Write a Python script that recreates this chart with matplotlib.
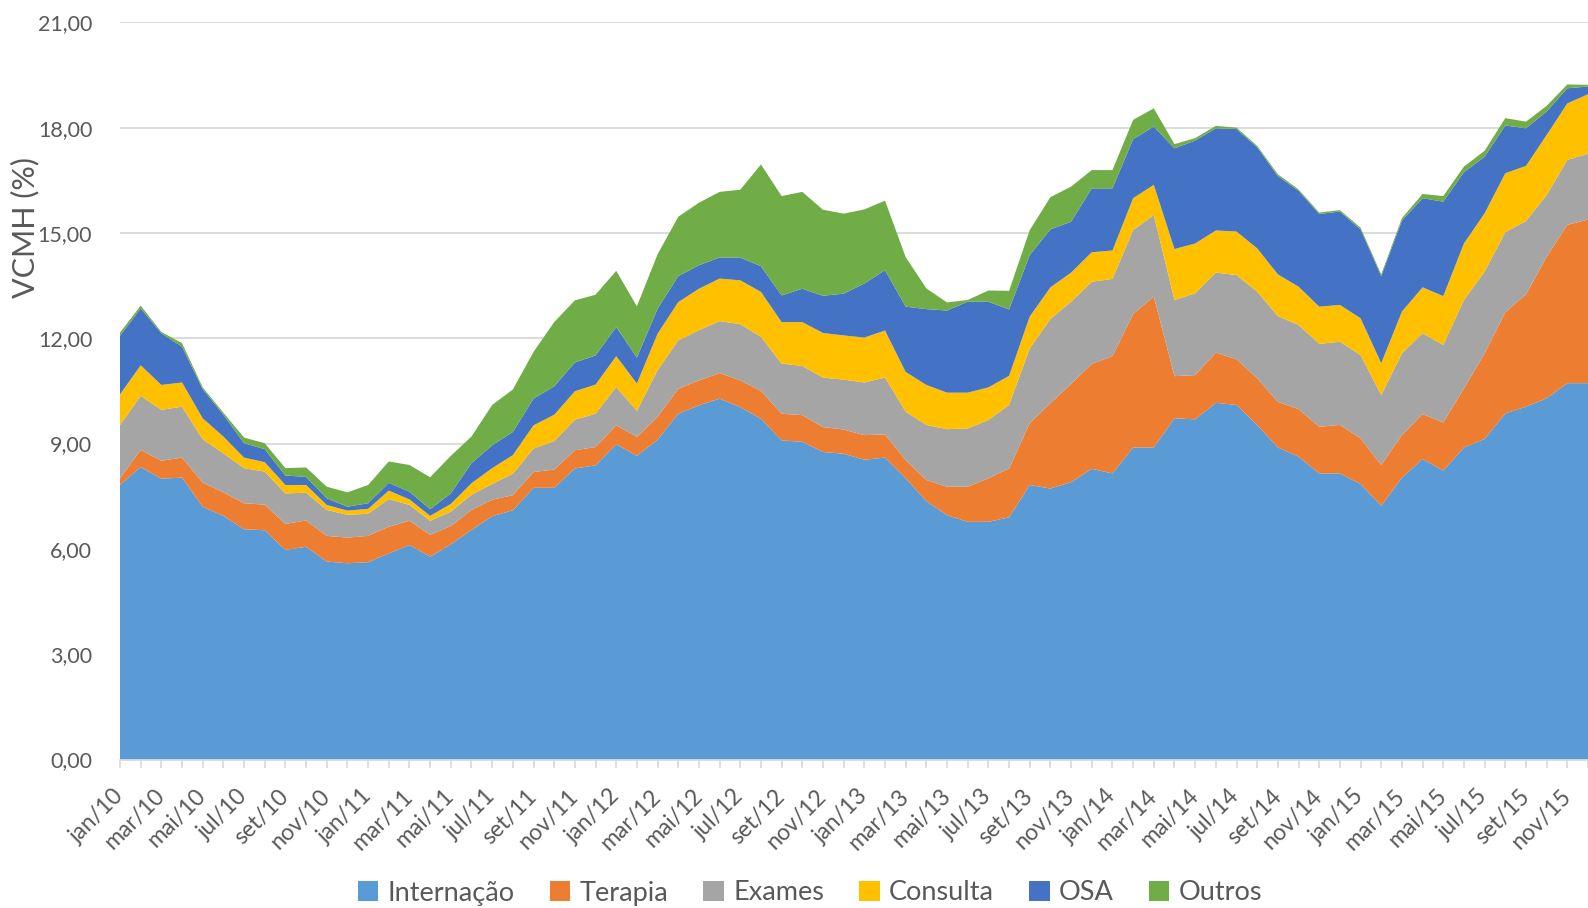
import numpy as np
import matplotlib
matplotlib.use("Agg")
import matplotlib.pyplot as plt
from matplotlib.patches import Patch

# monthly values jan/10 .. dez/15 (stack order bottom -> top)
internacao = [7.82, 8.33, 8.00, 8.03, 7.20, 6.94, 6.56, 6.53, 5.97, 6.06, 5.64, 5.59,
              5.62, 5.87, 6.11, 5.78, 6.13, 6.54, 6.93, 7.10, 7.74, 7.74, 8.29, 8.38,
              8.98, 8.65, 9.11, 9.85, 10.09, 10.28, 10.04, 9.71, 9.09, 9.05, 8.76, 8.71,
              8.54, 8.60, 8.01, 7.36, 6.96, 6.77, 6.77, 6.90, 7.82, 7.72, 7.90, 8.28,
              8.15, 8.89, 8.89, 9.72, 9.69, 10.16, 10.10, 9.53, 8.89, 8.63, 8.15, 8.15,
              7.85, 7.23, 8.03, 8.56, 8.23, 8.89, 9.13, 9.86, 10.05, 10.29, 10.72, 10.72]
terapia = [0.19, 0.49, 0.51, 0.57, 0.69, 0.67, 0.74, 0.73, 0.74, 0.75, 0.73, 0.73,
           0.75, 0.76, 0.69, 0.62, 0.52, 0.57, 0.47, 0.43, 0.45, 0.52, 0.52, 0.52,
           0.54, 0.54, 0.65, 0.71, 0.71, 0.73, 0.76, 0.79, 0.76, 0.76, 0.71, 0.69,
           0.70, 0.66, 0.52, 0.60, 0.81, 1.00, 1.24, 1.39, 1.76, 2.43, 2.80, 2.99,
           3.34, 3.80, 4.30, 1.20, 1.26, 1.43, 1.30, 1.33, 1.30, 1.35, 1.33, 1.38,
           1.30, 1.16, 1.21, 1.28, 1.37, 1.68, 2.44, 2.88, 3.20, 4.03, 4.51, 4.66]
exames = [1.52, 1.54, 1.45, 1.45, 1.23, 1.11, 1.00, 0.94, 0.87, 0.79, 0.74, 0.65,
          0.63, 0.79, 0.45, 0.40, 0.41, 0.43, 0.45, 0.61, 0.67, 0.81, 0.87, 0.95,
          1.09, 0.74, 1.33, 1.38, 1.43, 1.48, 1.60, 1.54, 1.43, 1.40, 1.41, 1.42,
          1.50, 1.62, 1.38, 1.57, 1.64, 1.66, 1.66, 1.81, 2.13, 2.40, 2.34, 2.34,
          2.20, 2.39, 2.32, 2.17, 2.33, 2.28, 2.40, 2.47, 2.44, 2.40, 2.36, 2.37,
          2.37, 1.99, 2.33, 2.30, 2.21, 2.52, 2.33, 2.28, 2.09, 1.76, 1.85, 1.87]
consulta = [0.87, 0.87, 0.71, 0.69, 0.60, 0.48, 0.30, 0.27, 0.24, 0.22, 0.14, 0.12,
            0.14, 0.24, 0.16, 0.14, 0.22, 0.33, 0.45, 0.53, 0.66, 0.75, 0.81, 0.83,
            0.88, 0.78, 1.04, 1.09, 1.18, 1.21, 1.25, 1.28, 1.18, 1.25, 1.27, 1.26,
            1.28, 1.34, 1.13, 1.14, 1.04, 1.02, 0.93, 0.83, 0.91, 0.90, 0.83, 0.84,
            0.81, 0.91, 0.86, 1.45, 1.42, 1.20, 1.24, 1.23, 1.19, 1.09, 1.06, 1.05,
            1.05, 0.91, 1.19, 1.31, 1.39, 1.61, 1.66, 1.68, 1.57, 1.71, 1.61, 1.70]
osa = [1.67, 1.62, 1.47, 1.02, 0.83, 0.62, 0.41, 0.37, 0.27, 0.23, 0.19, 0.11,
       0.16, 0.22, 0.22, 0.19, 0.30, 0.57, 0.65, 0.66, 0.76, 0.81, 0.82, 0.83,
       0.83, 0.74, 0.71, 0.74, 0.67, 0.60, 0.65, 0.73, 0.76, 0.95, 1.06, 1.19,
       1.54, 1.72, 1.86, 2.16, 2.34, 2.59, 2.44, 1.89, 1.75, 1.65, 1.45, 1.82,
       1.77, 1.68, 1.66, 2.87, 2.93, 2.91, 2.92, 2.88, 2.80, 2.73, 2.64, 2.66,
       2.53, 2.48, 2.59, 2.54, 2.69, 2.03, 1.61, 1.36, 1.07, 0.67, 0.43, 0.22]
outros = [0.09, 0.08, 0.04, 0.10, 0.05, 0.06, 0.16, 0.17, 0.21, 0.27, 0.33, 0.41,
          0.52, 0.61, 0.76, 0.91, 1.07, 0.76, 1.15, 1.21, 1.33, 1.83, 1.77, 1.73,
          1.60, 1.46, 1.55, 1.69, 1.78, 1.87, 1.93, 2.90, 2.83, 2.76, 2.45, 2.28,
          2.11, 1.98, 1.41, 0.59, 0.23, 0.05, 0.32, 0.53, 0.71, 0.92, 1.00, 0.52,
          0.52, 0.55, 0.52, 0.12, 0.07, 0.07, 0.04, 0.04, 0.05, 0.04, 0.04, 0.04,
          0.05, 0.05, 0.07, 0.12, 0.16, 0.16, 0.17, 0.21, 0.19, 0.16, 0.11, 0.05]

series_names = ["Internação", "Terapia", "Exames", "Consulta", "OSA", "Outros"]
colors = ["#5B9BD5", "#ED7D31", "#A5A5A5", "#FFC000", "#4472C4", "#70AD47"]
month_abbr = ["jan", "fev", "mar", "abr", "mai", "jun",
              "jul", "ago", "set", "out", "nov", "dez"]
years = ["10", "11", "12", "13", "14", "15"]
month_labels = [f"{m}/{y}" for y in years for m in month_abbr]
yticks = [0, 3, 6, 9, 12, 15, 18, 21]

plt.rcParams["font.family"] = ["Lato", "DejaVu Sans"]
txt = "#595959"
grid = "#D9D9D9"

fig = plt.figure(figsize=(15.88, 9.08), dpi=100)
ax = fig.add_axes([120 / 1588, 1 - 759.5 / 908, 1 - 120 / 1588, 737.2 / 908])

x = np.arange(len(month_labels))
ax.stackplot(x, internacao, terapia, exames, consulta, osa, outros,
             colors=colors, linewidth=0, zorder=2)

ax.set_xlim(0, (1588 - 120) / 20.77)
ax.set_ylim(0, 21)
ax.set_yticks(yticks)
ax.set_yticklabels([f"{v:.2f}".replace(".", ",") for v in yticks])
ax.grid(axis="y", color=grid, linewidth=1.3, zorder=0)
ax.set_axisbelow(True)

ax.set_xticks(x)
ax.set_xticklabels([lab if i % 2 == 0 else "" for i, lab in enumerate(month_labels)],
                   rotation=45, ha="right", va="center", rotation_mode="anchor")
ax.tick_params(axis="x", colors=grid, length=6, width=1.2, pad=18,
               labelsize=16.5, labelcolor=txt)
ax.tick_params(axis="y", length=0, pad=20, labelsize=15.5, labelcolor=txt)

for s in ["top", "right", "left"]:
    ax.spines[s].set_visible(False)
ax.spines["bottom"].set_color(grid)
ax.spines["bottom"].set_linewidth(1.3)
ax.spines["bottom"].set_zorder(3)

fig.text(25 / 1588, 1 - 228 / 908, "VCMH (%)", rotation=90, ha="center",
         va="center", fontsize=22, color=txt)

handles = [Patch(facecolor=c, edgecolor="none", label=n)
           for c, n in zip(colors, series_names)]
fig.legend(handles=handles, loc="center", bbox_to_anchor=(810 / 1588, 1 - 893 / 908),
           ncol=6, frameon=False, fontsize=19.5, labelcolor=txt,
           handlelength=0.75, handleheight=0.75, handletextpad=0.35,
           columnspacing=1.3)

fig.savefig("out.png", dpi=100)
